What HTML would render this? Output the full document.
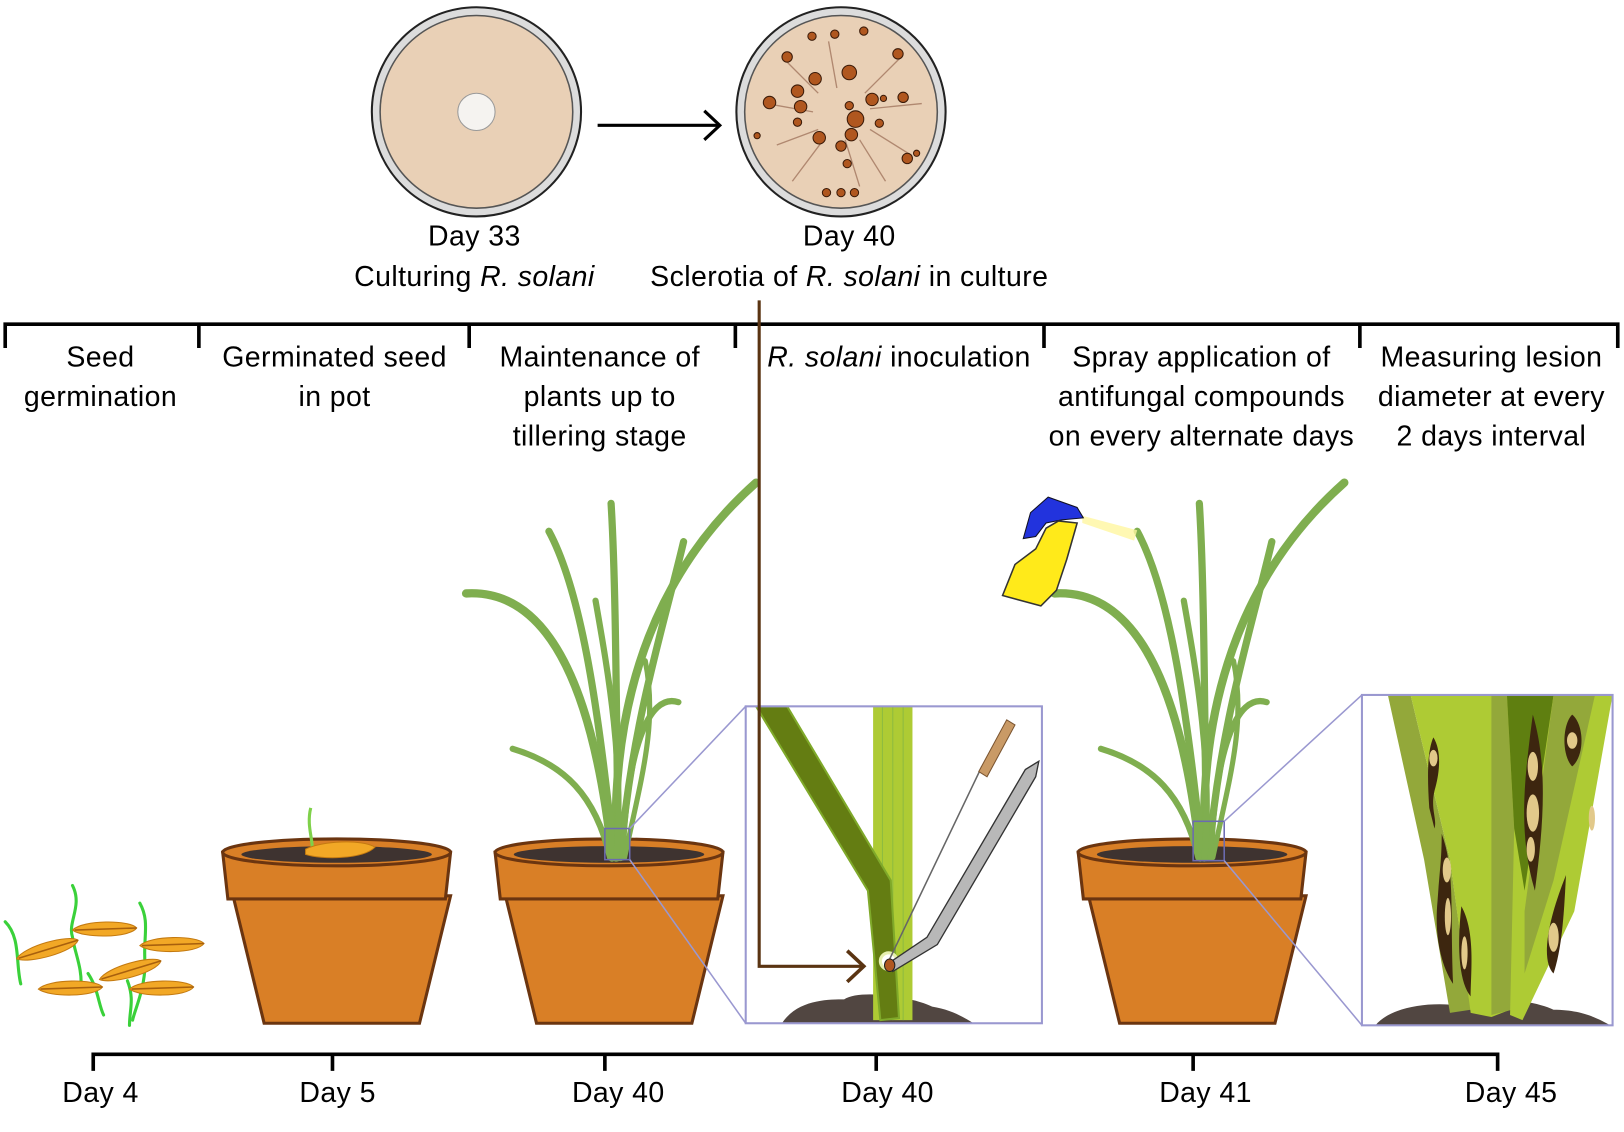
<!DOCTYPE html>
<html><head><meta charset="utf-8"><style>
html,body{margin:0;padding:0;background:#fff;}
svg{display:block;}
text{font-family:"Liberation Sans",Arial,sans-serif;font-size:27.5px;letter-spacing:0.4px;fill:#000;}
</style></head><body>
<svg width="1624" height="1132" viewBox="0 0 1568 1093" xmlns="http://www.w3.org/2000/svg">
<defs>
<clipPath id="c1"><rect x="720" y="682" width="286" height="306"/></clipPath>
<clipPath id="c2"><rect x="1315" y="671" width="242" height="319"/></clipPath>
<g id="plant" fill="none" stroke="#7fae4f" stroke-linecap="round">
 <path d="M0,0 C-5,-120 20,-260 135,-362" stroke-width="8"/>
 <path d="M-4,0 C-20,-150 -60,-260 -145,-255" stroke-width="8"/>
 <path d="M-2,0 C-15,-120 -30,-250 -65,-315" stroke-width="7"/>
 <path d="M2,0 C0,-130 0,-260 -5,-342" stroke-width="7"/>
 <path d="M4,0 C15,-130 45,-220 65,-305" stroke-width="7"/>
 <path d="M6,0 C10,-100 30,-160 60,-150" stroke-width="6"/>
 <path d="M-6,0 C-20,-60 -50,-90 -100,-105" stroke-width="6"/>
 <path d="M0,0 C8,-90 -8,-180 -20,-248" stroke-width="6"/>
 <path d="M8,0 C25,-80 40,-130 28,-190" stroke-width="5"/>
</g>
<g id="pot">
 <path d="M10,57 L220,57 L190,180 L40,180 Z" fill="#d97f26" stroke="#6b3510" stroke-width="3"/>
 <path d="M0,15 L220,15 L215,60 L5,60 Z" fill="#d97f26" stroke="#6b3510" stroke-width="3"/>
 <ellipse cx="110" cy="15" rx="110" ry="13" fill="#d97f26" stroke="#6b3510" stroke-width="3"/>
 <ellipse cx="110" cy="17" rx="92" ry="8" fill="#3e3330"/>
</g>
<g id="seed">
 <path d="M-30,0 C-20,-10 25,-10 32,-2 C25,8 -20,8 -30,0Z" fill="#f2a826" stroke="#c47a10" stroke-width="1"/>
 <path d="M-28,0 L32,-2" stroke="#a8600d" stroke-width="1.5"/>
</g>
</defs>

<circle cx="460" cy="108" r="101" fill="#dcdcdc" stroke="#222" stroke-width="2"/>
<circle cx="460" cy="108" r="93" fill="#e9d0b6" stroke="#555" stroke-width="1.5"/>
<circle cx="460" cy="108" r="18" fill="#f5f3f0" stroke="#999" stroke-width="1"/>
<line x1="577" y1="121" x2="693" y2="121" stroke="#000" stroke-width="3"/>
<path d="M680,107 L695,121 L680,135" fill="none" stroke="#000" stroke-width="3"/>
<circle cx="812" cy="108" r="101" fill="#dcdcdc" stroke="#222" stroke-width="2"/>
<circle cx="812" cy="108" r="93" fill="#e9d0b6" stroke="#555" stroke-width="1.5"/>
<g stroke="#b08870" stroke-width="1.3" fill="none">
<path d="M790,90 L760,60 M835,90 L870,55 M790,125 L750,140 M840,125 L880,150 M808,85 L800,40 M816,135 L830,180 M795,135 L765,175 M840,105 L890,100 M785,108 L740,100 M830,135 L855,175"/>
</g>
<g fill="#b0571f" stroke="#3a1a08" stroke-width="1">
<circle cx="820" cy="70" r="7"/><circle cx="787" cy="76" r="6"/><circle cx="770" cy="88" r="6"/><circle cx="743" cy="99" r="6"/><circle cx="773" cy="103" r="6"/>
<circle cx="826" cy="115" r="8"/><circle cx="842" cy="96" r="6"/><circle cx="820" cy="102" r="4"/><circle cx="812" cy="141" r="5"/><circle cx="791" cy="133" r="6"/>
<circle cx="822" cy="130" r="6"/><circle cx="872" cy="94" r="5"/><circle cx="876" cy="153" r="5"/><circle cx="798" cy="186" r="4"/><circle cx="812" cy="186" r="4"/><circle cx="825" cy="186" r="4"/>
<circle cx="760" cy="55" r="5"/><circle cx="806" cy="33" r="4"/><circle cx="784" cy="35" r="4"/><circle cx="834" cy="30" r="4"/><circle cx="867" cy="52" r="5"/>
<circle cx="731" cy="131" r="3"/><circle cx="818" cy="158" r="4"/><circle cx="849" cy="119" r="4"/><circle cx="853" cy="95" r="3"/><circle cx="770" cy="118" r="4"/><circle cx="885" cy="148" r="3"/>
</g>
<text x="458" y="237" text-anchor="middle">Day 33</text>
<text x="458" y="276" text-anchor="middle">Culturing <tspan font-style="italic">R. solani</tspan></text>
<text x="820" y="237" text-anchor="middle">Day 40</text>
<text x="820" y="276" text-anchor="middle">Sclerotia of <tspan font-style="italic">R. solani</tspan> in culture</text>

<g stroke="#000" stroke-width="3.5" fill="none">
<path d="M5,336 L5,313 L1562,313 L1562,336"/>
<path d="M192,313 V336 M453,313 V336 M710,313 V336 M1008,313 V336 M1313,313 V336"/>
</g>
<g text-anchor="middle">
<text x="97" y="354">Seed</text><text x="97" y="392">germination</text>
<text x="323" y="354">Germinated seed</text><text x="323" y="392">in pot</text>
<text x="579" y="354">Maintenance of</text><text x="579" y="392">plants up to</text><text x="579" y="430">tillering stage</text>
<text x="868" y="354"><tspan font-style="italic">R. solani</tspan> inoculation</text>
<text x="1160" y="354">Spray application of</text><text x="1160" y="392">antifungal compounds</text><text x="1160" y="430">on every alternate days</text>
<text x="1440" y="354">Measuring lesion</text><text x="1440" y="392">diameter at every</text><text x="1440" y="430">2 days interval</text>
</g>

<g stroke-linecap="round" fill="none">
<path d="M70,855 C80,875 65,890 70,905 C72,920 80,935 78,955" stroke="#3ad13a" stroke-width="3"/>
<path d="M5,890 C20,905 15,930 20,950" stroke="#3ad13a" stroke-width="3"/>
<path d="M135,872 C145,890 138,905 140,930 C140,955 130,975 128,985" stroke="#3ad13a" stroke-width="3"/>
<path d="M85,940 C95,955 95,970 100,980" stroke="#3ad13a" stroke-width="3"/>
<path d="M123,947 C130,965 125,975 125,990" stroke="#3ad13a" stroke-width="3"/>
</g>
<use href="#seed" transform="translate(100,898)"/>
<use href="#seed" transform="translate(45,918) rotate(-15)"/>
<use href="#seed" transform="translate(165,913)"/>
<use href="#seed" transform="translate(125,938) rotate(-15)"/>
<use href="#seed" transform="translate(67,955)"/>
<use href="#seed" transform="translate(155,955)"/>

<use href="#pot" transform="translate(215,808)"/>
<path d="M300,780 C295,800 305,815 300,825" stroke="#7fd14a" stroke-width="3" fill="none"/>
<path d="M295,820 C310,812 350,810 362,818 C350,830 310,830 295,825Z" fill="#f2a826" stroke="#c47a10"/>
<use href="#pot" transform="translate(478,808)"/>
<use href="#plant" transform="translate(595,828)"/>
<rect x="584" y="800" width="24" height="30" fill="none" stroke="#6b6bb0" stroke-width="1.5"/>
<use href="#pot" transform="translate(1041,808)"/>
<use href="#plant" transform="translate(1163,828)"/>
<rect x="1152" y="793" width="30" height="38" fill="none" stroke="#6b6bb0" stroke-width="1.5"/>

<g stroke="#9a98d0" stroke-width="1.5">
<line x1="608" y1="800" x2="720" y2="682"/><line x1="608" y1="830" x2="720" y2="988"/>
<line x1="1182" y1="793" x2="1315" y2="671"/><line x1="1182" y1="831" x2="1315" y2="990"/>
</g>

<g clip-path="url(#c1)">
<path d="M755,988 C770,965 800,965 815,965 C830,955 880,962 900,972 C920,975 935,985 940,988Z" fill="#514641"/>
<rect x="843" y="682" width="38" height="303" fill="#aecb34"/>
<path d="M852,682 V985 M862,682 V985 M872,682 V985" stroke="#8dbb40" stroke-width="1"/>
<path d="M730,682 L760,682 L860,850 L868,983 L850,985 L838,860 Z" fill="#647d12" stroke="#7fa92a" stroke-width="2"/>
<circle cx="858" cy="928" r="8" fill="#fff" stroke="#e6f0b0" stroke-width="3"/>
<path d="M858,928 L948,740" stroke="#666" stroke-width="1.5"/>
<path d="M945,745 L972,695 L980,700 L953,750Z" fill="#c99a66" stroke="#7a5430"/>
<path d="M858,930 L895,905 L990,743 L1003,735 L1000,750 L905,912 L862,938Z" fill="#b8b8b8" stroke="#333" stroke-width="1.3"/>
<ellipse cx="859" cy="932" rx="5" ry="6" fill="#b0571f" stroke="#222"/>
</g>
<rect x="720" y="682" width="286" height="306" fill="none" stroke="#9a98d0" stroke-width="2"/>

<path d="M733,290 V933 H833" fill="none" stroke="#5a3412" stroke-width="3"/>
<path d="M818,918 L834,933 L818,948" fill="none" stroke="#5a3412" stroke-width="3.5"/>

<g clip-path="url(#c2)">
<path d="M1328,990 C1340,975 1370,968 1400,970 C1430,960 1480,965 1500,975 C1530,975 1545,985 1555,990Z" fill="#514641"/>
<path d="M1340,671 L1362,671 L1400,830 L1420,975 L1400,978 L1375,830 Z" fill="#93a83a"/>
<path d="M1362,671 L1465,671 L1458,975 L1440,982 L1420,978 L1400,830 Z" fill="#aecb34"/>
<path d="M1440,671 L1465,671 L1460,975 L1440,980 Z" fill="#93a83a"/>
<path d="M1455,671 L1557,671 L1520,880 L1470,985 L1458,980 L1462,800Z" fill="#aecb34"/>
<path d="M1455,671 L1500,671 L1472,860 L1462,800 Z" fill="#5f7f10"/>
<path d="M1500,671 L1540,671 L1500,850 L1472,940 L1472,880 Z" fill="#93a83a"/>
</g>
<g fill="#3d260f">
<path d="M1384,712 C1392,725 1390,745 1386,760 C1380,780 1388,790 1385,800 L1380,780 C1378,750 1378,725 1384,712Z"/>
<path d="M1392,805 C1405,840 1400,880 1403,950 C1390,930 1385,900 1388,870 C1390,840 1392,830 1392,805Z"/>
<path d="M1411,875 C1425,900 1420,940 1420,962 C1410,950 1406,920 1411,875Z"/>
<path d="M1480,690 C1495,740 1490,800 1482,860 C1470,820 1470,780 1474,740 C1476,720 1478,705 1480,690Z"/>
<path d="M1518,690 C1530,700 1530,730 1518,740 C1508,730 1508,700 1518,690Z"/>
<path d="M1512,845 C1510,885 1508,915 1500,940 C1490,930 1490,900 1512,845Z"/>
</g>
<g fill="#e2c98a">
<ellipse cx="1384" cy="732" rx="4" ry="8"/>
<ellipse cx="1397" cy="840" rx="4" ry="12"/>
<ellipse cx="1398" cy="885" rx="3" ry="18"/>
<ellipse cx="1414" cy="920" rx="3" ry="16"/>
<ellipse cx="1480" cy="740" rx="5" ry="14"/><ellipse cx="1480" cy="785" rx="6" ry="18"/><ellipse cx="1478" cy="820" rx="4" ry="12"/>
<ellipse cx="1518" cy="715" rx="5" ry="8"/>
<ellipse cx="1500" cy="905" rx="5" ry="14"/>
<ellipse cx="1537" cy="790" rx="3" ry="12"/>
</g>
<rect x="1315" y="671" width="242" height="319" fill="none" stroke="#9a98d0" stroke-width="2"/>

<path d="M1045,498 L1098,512 L1095,522 L1045,505Z" fill="#fff6a0" opacity="0.8"/>
<path d="M988,520 L995,495 L1012,480 L1040,490 L1046,500 L1025,502 L1010,505 L1000,518Z" fill="#2233dd" stroke="#112"/>
<path d="M1010,510 L1022,503 L1040,505 L1030,540 L1020,570 L1005,585 L968,575 L980,545 L1000,530Z" fill="#ffea1a" stroke="#333" stroke-width="1.5"/>

<g stroke="#000" stroke-width="3.5" fill="none">
<path d="M90,1034 V1018 H1446 V1034"/>
<path d="M321,1018 V1034 M584,1018 V1034 M846,1018 V1034 M1152,1018 V1034"/>
</g>
<g text-anchor="middle">
<text x="97" y="1064">Day 4</text><text x="326" y="1064">Day 5</text><text x="597" y="1064">Day 40</text>
<text x="857" y="1064">Day 40</text><text x="1164" y="1064">Day 41</text><text x="1459" y="1064">Day 45</text>
</g>
</svg>
</body></html>
